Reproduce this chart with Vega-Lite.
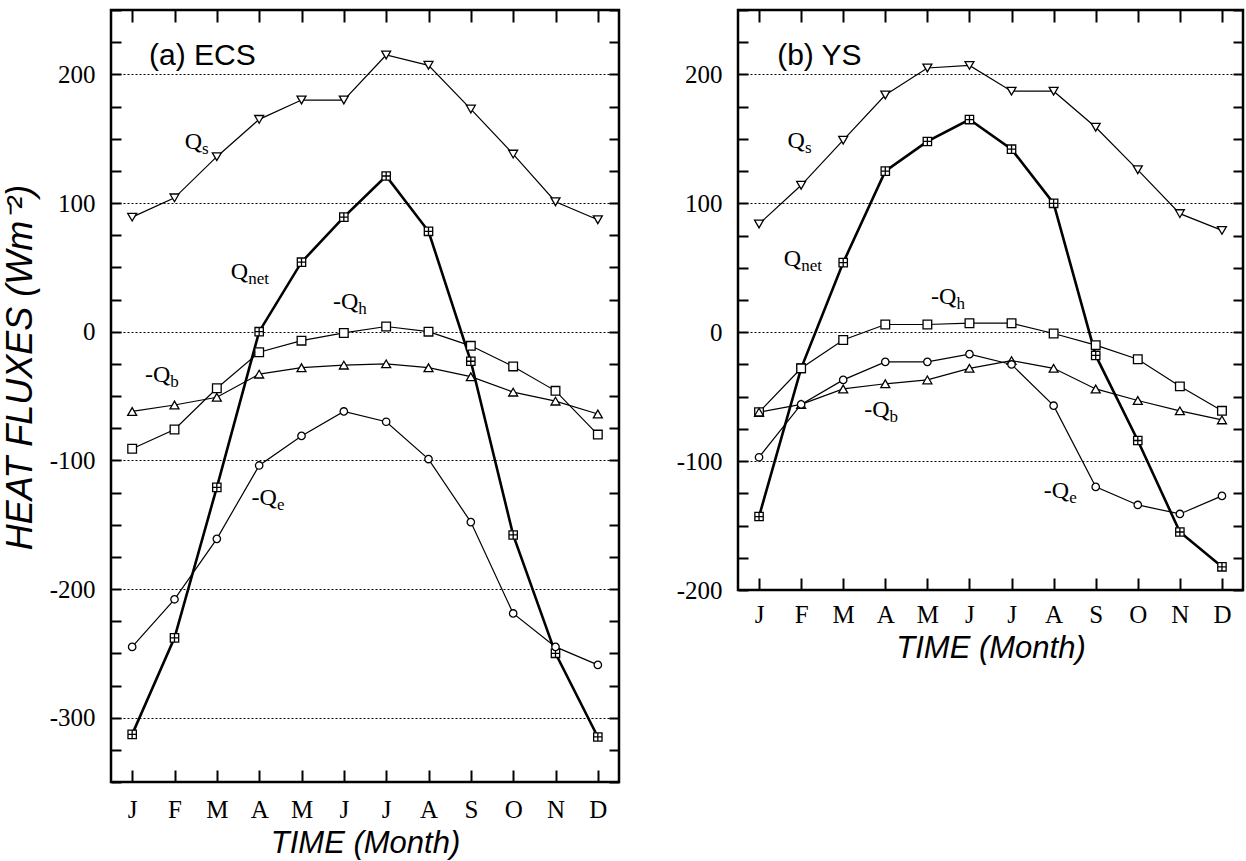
{
  "$schema": "https://vega.github.io/schema/vega-lite/v6.json",
  "background": "white",
  "padding": {"left": 0, "top": -4, "right": 0, "bottom": 0},
  "spacing": 52,
  "datasets": {
    "ecs": [
      {"m":1,"series":"Qs","v":89},{"m":2,"series":"Qs","v":104},{"m":3,"series":"Qs","v":136},{"m":4,"series":"Qs","v":165},{"m":5,"series":"Qs","v":180},{"m":6,"series":"Qs","v":180},{"m":7,"series":"Qs","v":215},{"m":8,"series":"Qs","v":207},{"m":9,"series":"Qs","v":173},{"m":10,"series":"Qs","v":138},{"m":11,"series":"Qs","v":101},{"m":12,"series":"Qs","v":87},
      {"m":1,"series":"Qnet","v":-313},{"m":2,"series":"Qnet","v":-238},{"m":3,"series":"Qnet","v":-121},{"m":4,"series":"Qnet","v":0},{"m":5,"series":"Qnet","v":54},{"m":6,"series":"Qnet","v":89},{"m":7,"series":"Qnet","v":121},{"m":8,"series":"Qnet","v":78},{"m":9,"series":"Qnet","v":-23},{"m":10,"series":"Qnet","v":-158},{"m":11,"series":"Qnet","v":-250},{"m":12,"series":"Qnet","v":-315},
      {"m":1,"series":"Qh","v":-91},{"m":2,"series":"Qh","v":-76},{"m":3,"series":"Qh","v":-44},{"m":4,"series":"Qh","v":-16},{"m":5,"series":"Qh","v":-7},{"m":6,"series":"Qh","v":-1},{"m":7,"series":"Qh","v":4},{"m":8,"series":"Qh","v":0},{"m":9,"series":"Qh","v":-11},{"m":10,"series":"Qh","v":-27},{"m":11,"series":"Qh","v":-46},{"m":12,"series":"Qh","v":-80},
      {"m":1,"series":"Qb","v":-62},{"m":2,"series":"Qb","v":-57},{"m":3,"series":"Qb","v":-51},{"m":4,"series":"Qb","v":-33},{"m":5,"series":"Qb","v":-28},{"m":6,"series":"Qb","v":-26},{"m":7,"series":"Qb","v":-25},{"m":8,"series":"Qb","v":-28},{"m":9,"series":"Qb","v":-35},{"m":10,"series":"Qb","v":-47},{"m":11,"series":"Qb","v":-54},{"m":12,"series":"Qb","v":-64},
      {"m":1,"series":"Qe","v":-245},{"m":2,"series":"Qe","v":-208},{"m":3,"series":"Qe","v":-161},{"m":4,"series":"Qe","v":-104},{"m":5,"series":"Qe","v":-81},{"m":6,"series":"Qe","v":-62},{"m":7,"series":"Qe","v":-70},{"m":8,"series":"Qe","v":-99},{"m":9,"series":"Qe","v":-148},{"m":10,"series":"Qe","v":-219},{"m":11,"series":"Qe","v":-245},{"m":12,"series":"Qe","v":-259}
    ],
    "ys": [
      {"m":1,"series":"Qs","v":84},{"m":2,"series":"Qs","v":114},{"m":3,"series":"Qs","v":149},{"m":4,"series":"Qs","v":184},{"m":5,"series":"Qs","v":205},{"m":6,"series":"Qs","v":207},{"m":7,"series":"Qs","v":187},{"m":8,"series":"Qs","v":187},{"m":9,"series":"Qs","v":159},{"m":10,"series":"Qs","v":126},{"m":11,"series":"Qs","v":92},{"m":12,"series":"Qs","v":79},
      {"m":1,"series":"Qnet","v":-143},{"m":2,"series":"Qnet","v":-28},{"m":3,"series":"Qnet","v":54},{"m":4,"series":"Qnet","v":125},{"m":5,"series":"Qnet","v":148},{"m":6,"series":"Qnet","v":165},{"m":7,"series":"Qnet","v":142},{"m":8,"series":"Qnet","v":100},{"m":9,"series":"Qnet","v":-18},{"m":10,"series":"Qnet","v":-84},{"m":11,"series":"Qnet","v":-155},{"m":12,"series":"Qnet","v":-182},
      {"m":1,"series":"Qh","v":-62},{"m":2,"series":"Qh","v":-28},{"m":3,"series":"Qh","v":-6},{"m":4,"series":"Qh","v":6},{"m":5,"series":"Qh","v":6},{"m":6,"series":"Qh","v":7},{"m":7,"series":"Qh","v":7},{"m":8,"series":"Qh","v":-1},{"m":9,"series":"Qh","v":-10},{"m":10,"series":"Qh","v":-21},{"m":11,"series":"Qh","v":-42},{"m":12,"series":"Qh","v":-61},
      {"m":1,"series":"Qb","v":-62},{"m":2,"series":"Qb","v":-56},{"m":3,"series":"Qb","v":-44},{"m":4,"series":"Qb","v":-40},{"m":5,"series":"Qb","v":-37},{"m":6,"series":"Qb","v":-28},{"m":7,"series":"Qb","v":-22},{"m":8,"series":"Qb","v":-28},{"m":9,"series":"Qb","v":-44},{"m":10,"series":"Qb","v":-53},{"m":11,"series":"Qb","v":-61},{"m":12,"series":"Qb","v":-68},
      {"m":1,"series":"Qe","v":-97},{"m":2,"series":"Qe","v":-56},{"m":3,"series":"Qe","v":-37},{"m":4,"series":"Qe","v":-23},{"m":5,"series":"Qe","v":-23},{"m":6,"series":"Qe","v":-17},{"m":7,"series":"Qe","v":-25},{"m":8,"series":"Qe","v":-57},{"m":9,"series":"Qe","v":-120},{"m":10,"series":"Qe","v":-134},{"m":11,"series":"Qe","v":-141},{"m":12,"series":"Qe","v":-127}
    ],
    "ecsLab": [
      {"kind":"label","main":"Q","sub":"s","x":2.65,"y":142},
      {"kind":"label","main":"Q","sub":"net","x":3.74,"y":41},
      {"kind":"label","main":"-Q","sub":"h","x":6.34,"y":18},
      {"kind":"label","main":"-Q","sub":"b","x":1.9,"y":-39.5},
      {"kind":"label","main":"-Q","sub":"e","x":4.42,"y":-135},
      {"kind":"title","main":"(a) ECS","sub":"","x":1.4,"y":207}
    ],
    "ysLab": [
      {"kind":"label","main":"Q","sub":"s","x":2.09,"y":143},
      {"kind":"label","main":"Q","sub":"net","x":2.0,"y":51},
      {"kind":"label","main":"-Q","sub":"h","x":5.69,"y":21.7},
      {"kind":"label","main":"-Q","sub":"b","x":4.1,"y":-66},
      {"kind":"label","main":"-Q","sub":"e","x":8.37,"y":-129},
      {"kind":"title","main":"(b) YS","sub":"","x":1.43,"y":207}
    ]
  },
  "hconcat": [
    {
      "width": 508,
      "height": 772,
      "resolve": {"axis": {"x": "independent", "y": "independent"}},
      "layer": [
        {
          "data": {"name": "ecs"},
          "mark": {"type": "line", "color": "black"},
          "encoding": {
            "x": {"field": "m", "type": "quantitative", "scale": {"domain": [0.5, 12.5], "nice": false},
              "axis": {"orient": "bottom", "values": [1,2,3,4,5,6,7,8,9,10,11,12], "labelExpr": "['J','F','M','A','M','J','J','A','S','O','N','D'][datum.value-1]", "tickSize": -12, "labelPadding": 27, "grid": false, "title": "TIME (Month)", "titlePadding": 6, "titleFontSize": 31, "labelFlush": false, "labelOverlap": false}},
            "y": {"field": "v", "type": "quantitative", "scale": {"domain": [-350, 250], "nice": false, "zero": false},
              "axis": {"orient": "left", "values": [-350,-325,-300,-275,-250,-225,-200,-175,-150,-125,-100,-75,-50,-25,0,25,50,75,100,125,150,175,200,225,250], "labelExpr": "datum.value % 100 === 0 ? '' + datum.value : ''", "tickSize": -10, "labelPadding": 26, "grid": true, "gridOpacity": {"condition": {"test": "datum.value % 100 === 0", "value": 1}, "value": 0}, "title": "HEAT FLUXES (Wm⁻²)", "titleFontSize": 36, "titlePadding": 10, "titleY": 357, "labelFlush": false, "labelOverlap": false}},
            "detail": {"field": "series"},
            "strokeWidth": {"field": "series", "type": "nominal", "scale": {"type": "ordinal", "domain": ["Qs","Qnet","Qh","Qb","Qe"], "range": [1.2, 2.6, 1.2, 1.2, 1.2]}, "legend": null}
          }
        },
        {
          "data": {"name": "ecs"},
          "mark": {"type": "point", "filled": true, "fill": "white", "stroke": "black", "strokeWidth": 1.3, "opacity": 1},
          "encoding": {
            "x": {"field": "m", "type": "quantitative", "scale": {"domain": [0.5, 12.5], "nice": false},
              "axis": {"orient": "top", "values": [1,2,3,4,5,6,7,8,9,10,11,12], "labels": false, "tickSize": -12, "grid": false, "title": null, "minExtent": 0, "maxExtent": 0}},
            "y": {"field": "v", "type": "quantitative", "scale": {"domain": [-350, 250], "nice": false, "zero": false},
              "axis": {"orient": "right", "values": [-350,-325,-300,-275,-250,-225,-200,-175,-150,-125,-100,-75,-50,-25,0,25,50,75,100,125,150,175,200,225,250], "labels": false, "tickSize": -10, "grid": false, "title": null, "minExtent": 0, "maxExtent": 0}},
            "shape": {"field": "series", "type": "nominal", "scale": {"domain": ["Qs","Qnet","Qh","Qb","Qe"], "range": ["triangle-down", "M-1,-1H1V1H-1Z M0,-1V1 M-1,0H1", "square", "triangle-up", "circle"]}, "legend": null},
            "size": {"field": "series", "type": "nominal", "scale": {"type": "ordinal", "domain": ["Qs","Qnet","Qh","Qb","Qe"], "range": [80, 70, 75, 80, 55]}, "legend": null}
          }
        },
        {
          "data": {"name": "ecsLab"},
          "transform": [{"filter": "datum.kind === 'label'"}],
          "mark": {"type": "text", "align": "right", "baseline": "alphabetic", "font": "Liberation Serif", "fontSize": 24, "color": "black"},
          "encoding": {
            "x": {"field": "x", "type": "quantitative", "scale": {"domain": [0.5, 12.5], "nice": false}, "axis": null},
            "y": {"field": "y", "type": "quantitative", "scale": {"domain": [-350, 250], "nice": false, "zero": false}, "axis": null},
            "text": {"field": "main"}
          }
        },
        {
          "data": {"name": "ecsLab"},
          "transform": [{"filter": "datum.kind === 'label'"}],
          "mark": {"type": "text", "align": "left", "baseline": "alphabetic", "font": "Liberation Serif", "fontSize": 17, "dy": 5, "color": "black"},
          "encoding": {
            "x": {"field": "x", "type": "quantitative", "scale": {"domain": [0.5, 12.5], "nice": false}, "axis": null},
            "y": {"field": "y", "type": "quantitative", "scale": {"domain": [-350, 250], "nice": false, "zero": false}, "axis": null},
            "text": {"field": "sub"}
          }
        },
        {
          "data": {"name": "ecsLab"},
          "transform": [{"filter": "datum.kind === 'title'"}],
          "mark": {"type": "text", "align": "left", "baseline": "alphabetic", "font": "Liberation Sans", "fontSize": 30, "color": "black"},
          "encoding": {
            "x": {"field": "x", "type": "quantitative", "scale": {"domain": [0.5, 12.5], "nice": false}, "axis": null},
            "y": {"field": "y", "type": "quantitative", "scale": {"domain": [-350, 250], "nice": false, "zero": false}, "axis": null},
            "text": {"field": "main"}
          }
        }
      ]
    },
    {
      "width": 505,
      "height": 580,
      "resolve": {"axis": {"x": "independent", "y": "independent"}},
      "layer": [
        {
          "data": {"name": "ys"},
          "mark": {"type": "line", "color": "black"},
          "encoding": {
            "x": {"field": "m", "type": "quantitative", "scale": {"domain": [0.5, 12.5], "nice": false},
              "axis": {"orient": "bottom", "values": [1,2,3,4,5,6,7,8,9,10,11,12], "labelExpr": "['J','F','M','A','M','J','J','A','S','O','N','D'][datum.value-1]", "tickSize": -12, "labelPadding": 24, "grid": false, "title": "TIME (Month)", "titlePadding": 6, "titleFontSize": 31, "labelFlush": false, "labelOverlap": false}},
            "y": {"field": "v", "type": "quantitative", "scale": {"domain": [-200, 250], "nice": false, "zero": false},
              "axis": {"orient": "left", "values": [-200,-175,-150,-125,-100,-75,-50,-25,0,25,50,75,100,125,150,175,200,225,250], "labelExpr": "datum.value % 100 === 0 ? '' + datum.value : ''", "tickSize": -10, "labelPadding": 26, "grid": true, "gridOpacity": {"condition": {"test": "datum.value % 100 === 0", "value": 1}, "value": 0}, "title": null, "labelFlush": false, "labelOverlap": false}},
            "detail": {"field": "series"},
            "strokeWidth": {"field": "series", "type": "nominal", "scale": {"type": "ordinal", "domain": ["Qs","Qnet","Qh","Qb","Qe"], "range": [1.2, 2.6, 1.2, 1.2, 1.2]}, "legend": null}
          }
        },
        {
          "data": {"name": "ys"},
          "mark": {"type": "point", "filled": true, "fill": "white", "stroke": "black", "strokeWidth": 1.3, "opacity": 1},
          "encoding": {
            "x": {"field": "m", "type": "quantitative", "scale": {"domain": [0.5, 12.5], "nice": false},
              "axis": {"orient": "top", "values": [1,2,3,4,5,6,7,8,9,10,11,12], "labels": false, "tickSize": -12, "grid": false, "title": null, "minExtent": 0, "maxExtent": 0}},
            "y": {"field": "v", "type": "quantitative", "scale": {"domain": [-200, 250], "nice": false, "zero": false},
              "axis": {"orient": "right", "values": [-200,-175,-150,-125,-100,-75,-50,-25,0,25,50,75,100,125,150,175,200,225,250], "labels": false, "tickSize": -10, "grid": false, "title": null, "minExtent": 0, "maxExtent": 0}},
            "shape": {"field": "series", "type": "nominal", "scale": {"domain": ["Qs","Qnet","Qh","Qb","Qe"], "range": ["triangle-down", "M-1,-1H1V1H-1Z M0,-1V1 M-1,0H1", "square", "triangle-up", "circle"]}, "legend": null},
            "size": {"field": "series", "type": "nominal", "scale": {"type": "ordinal", "domain": ["Qs","Qnet","Qh","Qb","Qe"], "range": [80, 70, 75, 80, 55]}, "legend": null}
          }
        },
        {
          "data": {"name": "ysLab"},
          "transform": [{"filter": "datum.kind === 'label'"}],
          "mark": {"type": "text", "align": "right", "baseline": "alphabetic", "font": "Liberation Serif", "fontSize": 24, "color": "black"},
          "encoding": {
            "x": {"field": "x", "type": "quantitative", "scale": {"domain": [0.5, 12.5], "nice": false}, "axis": null},
            "y": {"field": "y", "type": "quantitative", "scale": {"domain": [-200, 250], "nice": false, "zero": false}, "axis": null},
            "text": {"field": "main"}
          }
        },
        {
          "data": {"name": "ysLab"},
          "transform": [{"filter": "datum.kind === 'label'"}],
          "mark": {"type": "text", "align": "left", "baseline": "alphabetic", "font": "Liberation Serif", "fontSize": 17, "dy": 5, "color": "black"},
          "encoding": {
            "x": {"field": "x", "type": "quantitative", "scale": {"domain": [0.5, 12.5], "nice": false}, "axis": null},
            "y": {"field": "y", "type": "quantitative", "scale": {"domain": [-200, 250], "nice": false, "zero": false}, "axis": null},
            "text": {"field": "sub"}
          }
        },
        {
          "data": {"name": "ysLab"},
          "transform": [{"filter": "datum.kind === 'title'"}],
          "mark": {"type": "text", "align": "left", "baseline": "alphabetic", "font": "Liberation Sans", "fontSize": 30, "color": "black"},
          "encoding": {
            "x": {"field": "x", "type": "quantitative", "scale": {"domain": [0.5, 12.5], "nice": false}, "axis": null},
            "y": {"field": "y", "type": "quantitative", "scale": {"domain": [-200, 250], "nice": false, "zero": false}, "axis": null},
            "text": {"field": "main"}
          }
        }
      ]
    }
  ],
  "config": {
    "view": {"stroke": "black", "strokeWidth": 2.5},
    "axis": {"labelFont": "Liberation Serif", "labelFontSize": 25, "labelColor": "black", "tickColor": "black", "tickWidth": 2, "domain": false, "titleFont": "Liberation Sans", "titleFontSize": 30, "titleFontStyle": "italic", "titleFontWeight": "normal", "titleColor": "black", "gridColor": "black", "gridDash": [2, 2], "gridWidth": 1}
  }
}
